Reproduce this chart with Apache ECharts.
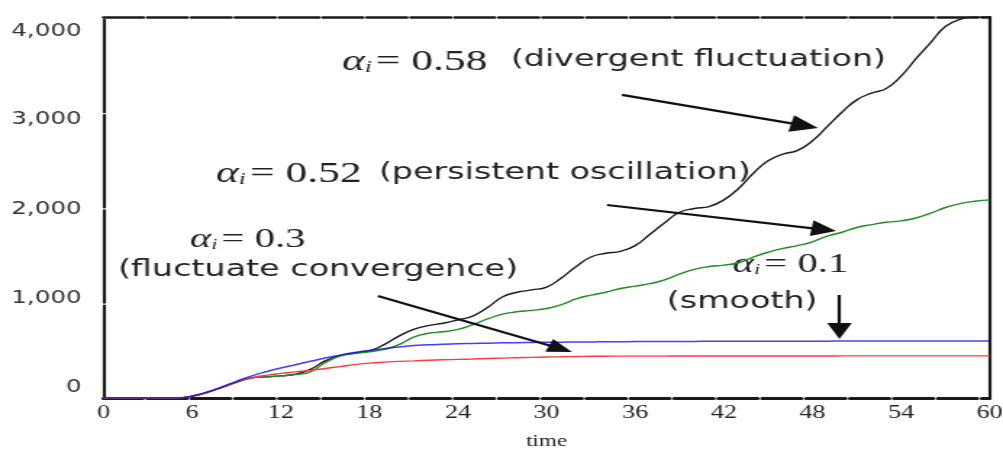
<!DOCTYPE html>
<html>
<head>
<meta charset="utf-8">
<script src="https://cdn.jsdelivr.net/npm/echarts@6.0.0/dist/echarts.min.js"></script>
<style>
  html, body { margin: 0; padding: 0; background: #fff; overflow: hidden; }
  #c { width: 692px; height: 449px; transform: scaleX(1.44942); transform-origin: 0 0; }
</style>
</head>
<body>
<div id="c"></div>
<script>
// ---- data ----
const time = [0,1,2,3,4,5,6,7,8,9,10,11,12,13,14,15,16,17,18,19,20,21,22,23,24,25,26,27,28,29,30,
              31,32,33,34,35,36,37,38,39,40,41,42,43,44,45,46,47,48,49,50,51,52,53,54,55,56,57,58,59,60];
// alpha_i = 0.58 (divergent fluctuation)
const alpha058 = [0,0,0,0,0,0,20,60,110,165,210,222,232,250,300,390,445,470,495,560,650,720,760,785,820,860,950,1060,1110,1135,1165,
                  1260,1380,1480,1520,1540,1600,1720,1840,1950,1990,2010,2080,2200,2360,2490,2560,2600,2700,2850,3000,3130,3200,3250,3380,3560,3730,3900,3975,4000,4000];
// alpha_i = 0.52 (persistent oscillation)
const alpha052 = [0,0,0,0,0,0,20,60,110,165,210,222,232,245,275,370,440,470,485,510,560,640,680,695,720,770,830,880,905,920,940,
                  980,1040,1080,1110,1150,1175,1200,1240,1300,1350,1380,1395,1420,1480,1530,1570,1600,1640,1700,1740,1790,1820,1845,1860,1890,1940,2000,2040,2065,2080];
// alpha_i = 0.3 (fluctuate convergence)
const alpha03 = [0,0,0,0,0,0,20,60,115,170,212,238,258,274,290,310,330,350,366,377,384,390,396,401,405,409,414,419,423,426,430,
                 433,436,438,439,440,440,440,440,441,441,441,441,441,441,441,441,441,441,441,442,442,442,442,442,442,442,442,442,442,442];
// alpha_i = 0.1 (smooth)
const alpha01 = [0,0,0,0,0,0,20,60,115,175,230,275,315,350,385,420,450,478,500,518,535,550,558,565,570,573,576,579,581,583,585,
                 586,588,589,590,591,592,592,593,594,594,595,595,596,596,596,597,597,597,597,598,598,598,598,598,598,598,598,598,598,598];
const yTicks = [0, 1000, 2000, 3000, 4000];
const xTicks = [0, 6, 12, 18, 24, 30, 36, 42, 48, 54, 60];

function pairs(arr) { return time.map((t, i) => [t, arr[i]]); }

const chart = echarts.init(document.getElementById('c'), null, { renderer: 'canvas' });

const serif = 'Liberation Serif';
const sans = 'DejaVu Sans';
const alphaRich = function (size) {
  return {
    a: { fontFamily: serif, fontStyle: 'italic', fontSize: size, fill: '#222', color: '#222' },
    s: { fontFamily: serif, fontStyle: 'italic', fontSize: Math.round(size * 0.55), padding: [Math.round(size * 0.4), 3, 0, 0], fill: '#222', color: '#222' },
    e: { fontFamily: serif, fontSize: size, fill: '#222', color: '#222' }
  };
};
function gtext(x, y, text, opts) {
  return {
    type: 'text', x: x, y: y, silent: true,
    style: Object.assign({
      text: text, fill: '#222',
      align: 'left', verticalAlign: 'middle',
      textAlign: 'left', textVerticalAlign: 'middle'
    }, opts)
  };
}

const arrowLine = { color: '#111', width: 2.2, type: 'solid' };
const yl = { fontFamily: sans, fontSize: 17, color: '#333' };

const option = {
  animation: false,
  backgroundColor: '#fff',
  grid: { left: 71.4, right: 9.2, top: 17, bottom: 51, containLabel: false, outerBoundsMode: 'none' },
  xAxis: [
    {
      type: 'value', min: 0, max: 60, interval: 6, position: 'bottom',
      axisLine: { onZero: false, lineStyle: { color: '#1a1a1a', width: 3, type: [27, 3.3] } },
      axisTick: { show: false }, splitLine: { show: false },
      axisLabel: { fontFamily: serif, fontSize: 18, color: '#222', margin: 6, customValues: xTicks },
      name: 'time', nameLocation: 'middle', nameGap: 36,
      nameTextStyle: { fontFamily: serif, fontSize: 16, color: '#222' }
    },
    {
      type: 'value', min: 0, max: 60, position: 'top',
      axisLine: { onZero: false, lineStyle: { color: '#1a1a1a', width: 2.5, type: [27.5, 2.8] } },
      axisTick: { show: false }, splitLine: { show: false }, axisLabel: { show: false }
    }
  ],
  yAxis: [
    {
      type: 'value', min: 0, max: 4000, interval: 1000, position: 'left',
      axisLine: { show: true, onZero: false, lineStyle: { color: '#1a1a1a', width: 2.2, type: [92.5, 2.75] } },
      axisTick: { show: false }, splitLine: { show: false },
      axisLabel: {
        margin: 15, fontFamily: sans, fontSize: 17, color: '#333',
        formatter: function (v) { return '{p' + (v / 1000) + '|' + v.toLocaleString('en-US') + '}'; },
        rich: {
          p0: Object.assign({ padding: [0, 0, 21, 0] }, yl),
          p1: Object.assign({ padding: [0, 0, 9, 0] }, yl),
          p2: Object.assign({ padding: [5, 0, 0, 0] }, yl),
          p3: Object.assign({ padding: [15, 0, 0, 0] }, yl),
          p4: Object.assign({ padding: [30, 0, 0, 0] }, yl)
        }
      }
    },
    {
      type: 'value', min: 0, max: 4000, position: 'right',
      axisLine: { show: true, onZero: false, lineStyle: { color: '#1a1a1a', width: 2.2 } },
      axisTick: { show: false }, splitLine: { show: false }, axisLabel: { show: false }
    }
  ],
  series: [
    {
      name: 'αi = 0.58', type: 'line', data: pairs(alpha058), showSymbol: false, smooth: true,
      lineStyle: { color: '#1a1a1a', width: 1.4 }, itemStyle: { color: '#1a1a1a' }, z: 3,
      markLine: {
        silent: true, animation: false, symbol: ['none', 'triangle'], label: { show: false },
        lineStyle: arrowLine, itemStyle: { color: '#111' },
        data: [
          [{ coord: [35.1, 3182] }, { coord: [47.47, 2859], symbol: 'triangle', symbolSize: [17, 19] }],
          [{ coord: [34.09, 2026] }, { coord: [48.77, 1768], symbol: 'triangle', symbolSize: [16, 17] }],
          [{ coord: [18.58, 1071] }, { coord: [30.95, 518], symbol: 'triangle', symbolSize: [14, 17] }],
          [{ coord: [49.83, 1081] }, { coord: [49.83, 703], symbol: 'triangle', symbolSize: [17, 16] }]
        ]
      }
    },
    {
      name: 'αi = 0.52', type: 'line', data: pairs(alpha052), showSymbol: false, smooth: true,
      lineStyle: { color: '#228b22', width: 1.4 }, itemStyle: { color: '#228b22' }, z: 3
    },
    {
      name: 'αi = 0.3', type: 'line', data: pairs(alpha03), showSymbol: false, smooth: true,
      lineStyle: { color: '#ff3a3a', width: 1.4 }, itemStyle: { color: '#ff3a3a' }, z: 3
    },
    {
      name: 'αi = 0.1', type: 'line', data: pairs(alpha01), showSymbol: false, smooth: true,
      lineStyle: { color: 'rgba(0,0,255,0.75)', width: 1.5 }, itemStyle: { color: '#3333ff' }, z: 4
    }
  ],
  graphic: [
    gtext(235.9, 62, '{a|α}{s|i}{e|= 0.58}', { rich: alphaRich(30) }),
    gtext(352.4, 60, '(divergent fluctuation)', { fontFamily: sans, fontSize: 23 }),
    gtext(149, 174, '{a|α}{s|i}{e|= 0.52}', { rich: alphaRich(30) }),
    gtext(261.4, 173, '(persistent oscillation)', { fontFamily: sans, fontSize: 23 }),
    gtext(131, 240, '{a|α}{s|i}{e|= 0.3}', { rich: alphaRich(28) }),
    gtext(81.4, 270, '(fluctuate convergence)', { fontFamily: sans, fontSize: 23 }),
    gtext(505.5, 265, '{a|α}{s|i}{e|= 0.1}', { rich: alphaRich(28) }),
    gtext(460, 302, '(smooth)', { fontFamily: sans, fontSize: 23 })
  ]
};
chart.setOption(option);
</script>
</body>
</html>
